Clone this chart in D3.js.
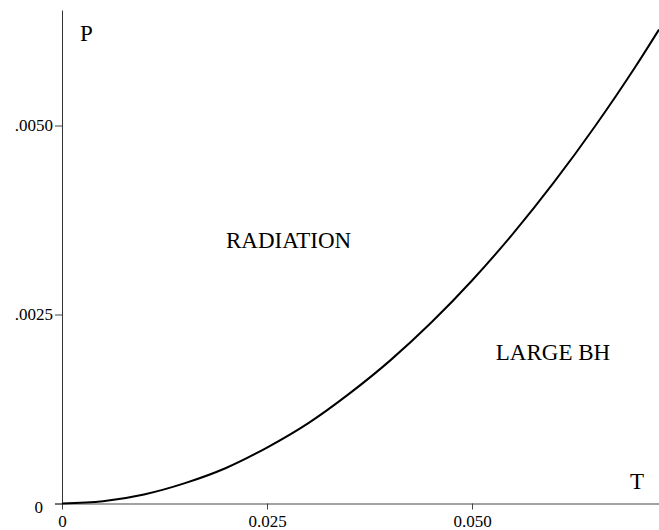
<!DOCTYPE html>
<html>
<head>
<meta charset="utf-8">
<script src="https://cdn.jsdelivr.net/npm/d3@7"></script>
<style>
  html, body { margin: 0; padding: 0; background: #fff; }
  svg { display: block; }
</style>
</head>
<body>
<svg id="chart" width="659" height="530"></svg>
<script>
// Coexistence line P(T) between the radiation and large black hole phases
const temperature = [0, 0.005, 0.010, 0.015, 0.020, 0.025, 0.030, 0.035, 0.040, 0.045, 0.050, 0.055, 0.060, 0.065, 0.070, 0.0728];
const pressure    = [0, 0.00003, 0.00012, 0.00027, 0.00047, 0.00074, 0.00106, 0.00145, 0.00189, 0.00239, 0.00295, 0.00357, 0.00425, 0.00499, 0.00579, 0.00627];

const xTicks = [0, 0.025, 0.050];
const xTickLabels = ["0", "0.025", "0.050"];
const yTicks = [0, 0.0025, 0.0050];
const yTickLabels = ["0", ".0025", ".0050"];

const regionLabels = [
  { text: "RADIATION", T: 0.0200, P: 0.00338 },
  { text: "LARGE BH",  T: 0.0529, P: 0.00190 }
];

const xMax = 0.0728;
const yMax = 0.006528;

const SERIF = '"Liberation Serif"';

const svg = d3.select("#chart");
const plot = { left: 62, right: 659, top: 10, bottom: 503.5 };

const x = d3.scaleLinear().domain([0, xMax]).range([plot.left, plot.right]);
const y = d3.scaleLinear().domain([0, yMax]).range([plot.bottom, plot.top]);

// T axis
const xAxis = d3.axisBottom(x)
  .tickValues(xTicks)
  .tickFormat((d, i) => xTickLabels[i])
  .tickSize(6)
  .tickSizeOuter(0)
  .tickPadding(5);
const gx = svg.append("g")
  .attr("transform", `translate(0,${plot.bottom})`)
  .call(xAxis);
gx.attr("font-family", null).attr("font-size", null);
gx.select(".domain").attr("stroke", "#444").attr("d", `M${plot.left - 7},0.5H${plot.right}`);
gx.selectAll(".tick line").attr("stroke", "#444");
gx.selectAll(".tick text")
  .style("font-family", SERIF)
  .style("font-size", "17px")
  .attr("fill", "#000");

// P axis
const yAxis = d3.axisLeft(y)
  .tickValues(yTicks)
  .tickFormat((d, i) => yTickLabels[i])
  .tickSize(7)
  .tickSizeOuter(0)
  .tickPadding(2);
const gy = svg.append("g")
  .attr("transform", `translate(${plot.left},0)`)
  .call(yAxis);
gy.attr("font-family", null).attr("font-size", null);
gy.select(".domain").attr("stroke", "#333");
gy.selectAll(".tick line").attr("stroke", "#444");
gy.selectAll(".tick text")
  .style("font-family", SERIF)
  .style("font-size", "17px")
  .attr("fill", "#000");
// the origin label on the P axis sits further out, below the T axis line
gy.selectAll(".tick text").filter(d => d === 0)
  .attr("x", -19)
  .attr("dy", "0.55em");

// clip the curve to the plotting area
svg.append("clipPath").attr("id", "plot-clip")
  .append("rect")
  .attr("x", plot.left).attr("y", 0)
  .attr("width", plot.right - plot.left).attr("height", plot.bottom + 2);

const line = d3.line()
  .x((d, i) => x(temperature[i]))
  .y((d, i) => y(pressure[i]))
  .curve(d3.curveMonotoneX);

svg.append("path")
  .datum(pressure)
  .attr("clip-path", "url(#plot-clip)")
  .attr("d", line)
  .attr("fill", "none")
  .attr("stroke", "#000")
  .attr("stroke-width", 2);

// axis names
svg.append("text")
  .attr("x", 80).attr("y", 41)
  .style("font-family", SERIF)
  .style("font-size", "23px")
  .text("P");
svg.append("text")
  .attr("x", 630).attr("y", 489)
  .style("font-family", SERIF)
  .style("font-size", "23px")
  .text("T");

// phase region labels
svg.selectAll("text.region")
  .data(regionLabels)
  .enter().append("text")
  .attr("class", "region")
  .attr("x", d => x(d.T))
  .attr("y", d => y(d.P))
  .style("font-family", SERIF)
  .style("font-size", "23px")
  .text(d => d.text);
</script>
</body>
</html>
